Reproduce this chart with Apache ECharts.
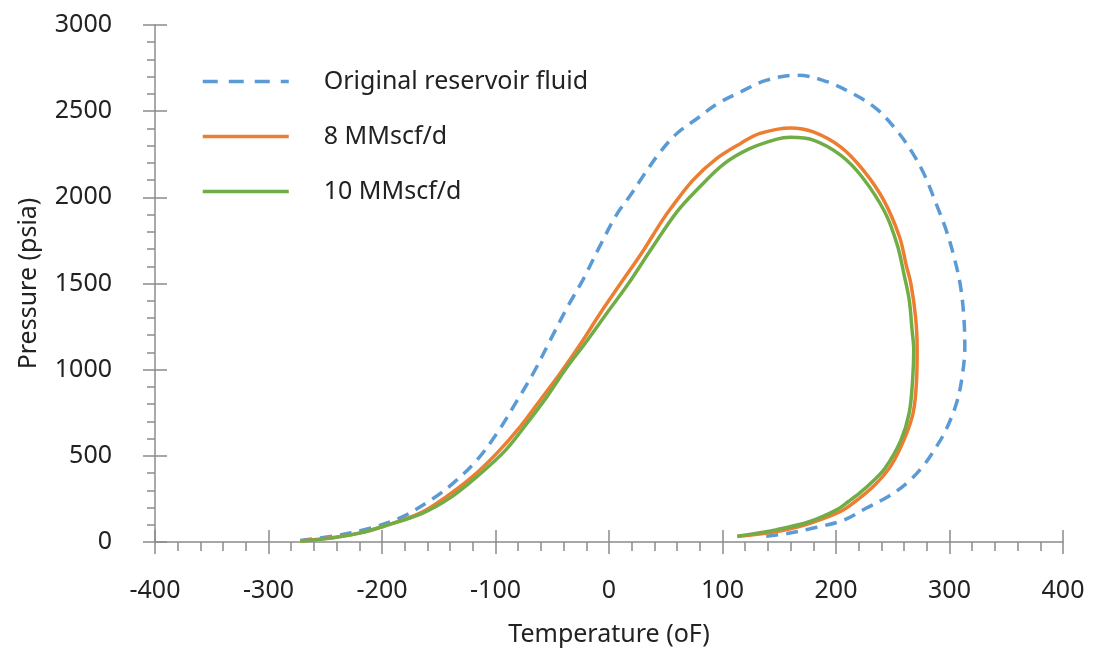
<!DOCTYPE html>
<html>
<head>
<meta charset="utf-8">
<script src="https://cdn.jsdelivr.net/npm/echarts@6/dist/echarts.min.js"></script>
<style>
  html, body { margin: 0; padding: 0; background: #fff; }
  #chart { width: 1094px; height: 652px; }
</style>
</head>
<body>
<div id="chart"></div>
<script>
// phase envelope points, temperature (oF) / pressure (psia)
var origT = [-272, -243, -213, -184, -155, -137, -116, -98.5, -81, -66, -52, -37, -23, -8, 7, 19, 30, 45, 60, 78, 95, 116, 139, 166, 192, 215, 236, 254, 267, 278, 288, 297, 304, 309.5, 312.5, 313.5, 311, 306, 297, 288, 277, 263, 246, 226, 206, 182, 157, 133];
var origP = [9, 34, 76, 140, 252, 343, 478, 633, 820, 988, 1168, 1359, 1521, 1718, 1903, 2013, 2123, 2262, 2372, 2459, 2541, 2612, 2680, 2709, 2671, 2601, 2512, 2384, 2262, 2129, 1967, 1811, 1654, 1492, 1318, 1133, 953, 802, 652, 548, 443, 345, 264, 194, 125, 84, 49, 30];

var mm8T = [-272, -243, -219, -199, -166, -143, -120, -98.5, -78, -61, -43, -25, -8, 10, 30, 45, 54, 74, 95, 116, 133, 160, 180, 204, 224, 242, 256, 262, 266, 270, 271.5, 271, 268, 260, 248, 233, 217, 204, 179, 153, 113];
var mm8P = [6, 26, 53, 90, 169, 265, 381, 517, 671, 820, 979, 1150, 1324, 1498, 1689, 1846, 1932, 2100, 2226, 2313, 2371, 2403, 2380, 2293, 2158, 1984, 1770, 1602, 1498, 1312, 1127, 941, 750, 594, 439, 323, 235, 177, 113, 67, 32];

var mm10T = [-272, -243, -219, -198, -165, -140, -116, -91.5, -72, -54.5, -38, -20, -1, 17, 38, 60, 79, 101, 123, 148, 160, 180, 204, 223, 243, 254, 260, 264.5, 267, 268.5, 267.5, 264.5, 257, 243, 232, 221, 211, 201, 177, 148, 113];
var mm10P = [5, 24, 53, 93, 165, 256, 381, 530, 691, 845, 1005, 1162, 1336, 1498, 1707, 1917, 2054, 2193, 2280, 2338, 2348, 2332, 2245, 2118, 1915, 1724, 1550, 1405, 1231, 1115, 941, 749, 588, 426, 350, 285, 235, 188, 119, 72, 34];

var seriesNames = ['Original reservoir fluid', '8 MMscf/d', '10 MMscf/d'];
var colors = ['#5b9bd5', '#ed7d31', '#70ad47'];

function pairs(xs, ys) {
    var out = [];
    for (var i = 0; i < xs.length; i++) out.push([xs[i], ys[i]]);
    return out;
}

var font = 'Noto Sans';
var axisColor = '#8c8c8c';

var chart = echarts.init(document.getElementById('chart'));

var option = {
    animation: false,
    textStyle: { fontFamily: font },
    grid: { left: 155, right: 31, top: 25, bottom: 109 },
    legend: {
        left: 196,
        top: 64,
        orient: 'vertical',
        itemWidth: 86,
        itemHeight: 26,
        itemGap: 30,
        data: [
            { name: seriesNames[0], lineStyle: { type: [15, 11] } },
            seriesNames[1],
            seriesNames[2]
        ],
        itemStyle: { opacity: 0 },
        lineStyle: { width: 3.5 },
        textStyle: { fontSize: 25, color: '#222', padding: [0, 0, 0, 30], fontFamily: font }
    },
    xAxis: [{
        type: 'value',
        min: -400, max: 400, interval: 100,
        name: 'Temperature (oF)',
        nameLocation: 'middle',
        nameGap: 80,
        nameTextStyle: { fontSize: 25, color: '#222' },
        splitLine: { show: false },
        axisLine: { onZero: false, lineStyle: { color: axisColor, width: 1.5 } },
        axisTick: { length: 12, lineStyle: { color: axisColor, width: 1.5 } },
        minorTick: { show: true, splitNumber: 5, length: 9, lineStyle: { color: axisColor, width: 1.5 } },
        axisLabel: { fontSize: 25, color: '#222', margin: 36 }
    }, {
        type: 'value',
        min: -400, max: 400, interval: 100,
        position: 'bottom',
        splitLine: { show: false },
        axisLine: { show: false, onZero: false },
        axisTick: { inside: true, length: 12, lineStyle: { color: axisColor, width: 1.5 } },
        axisLabel: { show: false }
    }],
    yAxis: [{
        type: 'value',
        min: 0, max: 3000, interval: 500,
        name: 'Pressure (psia)',
        nameLocation: 'middle',
        nameGap: 114,
        nameTextStyle: { fontSize: 25, color: '#222' },
        splitLine: { show: false },
        axisLine: { onZero: false, lineStyle: { color: axisColor, width: 1.5 } },
        axisTick: { length: 12, lineStyle: { color: axisColor, width: 1.5 } },
        minorTick: { show: true, splitNumber: 5, length: 8, lineStyle: { color: axisColor, width: 1.5 } },
        axisLabel: { fontSize: 25, color: '#222', margin: 43, formatter: function (v) { return String(v); } }
    }, {
        type: 'value',
        min: 0, max: 3000, interval: 500,
        position: 'left',
        splitLine: { show: false },
        axisLine: { show: false, onZero: false },
        axisTick: { inside: true, length: 12, lineStyle: { color: axisColor, width: 1.5 } },
        axisLabel: { show: false }
    }],
    series: [{
        name: seriesNames[0],
        type: 'line',
        smooth: 0.35,
        symbol: 'none',
        color: colors[0],
        lineStyle: { width: 3.5, type: [12, 8], color: colors[0] },
        data: pairs(origT, origP)
    }, {
        name: seriesNames[1],
        type: 'line',
        smooth: 0.35,
        symbol: 'none',
        color: colors[1],
        lineStyle: { width: 3.5, color: colors[1] },
        data: pairs(mm8T, mm8P)
    }, {
        name: seriesNames[2],
        type: 'line',
        smooth: 0.35,
        symbol: 'none',
        color: colors[2],
        lineStyle: { width: 3.5, color: colors[2] },
        data: pairs(mm10T, mm10P)
    }]
};

chart.setOption(option);
</script>
</body>
</html>
